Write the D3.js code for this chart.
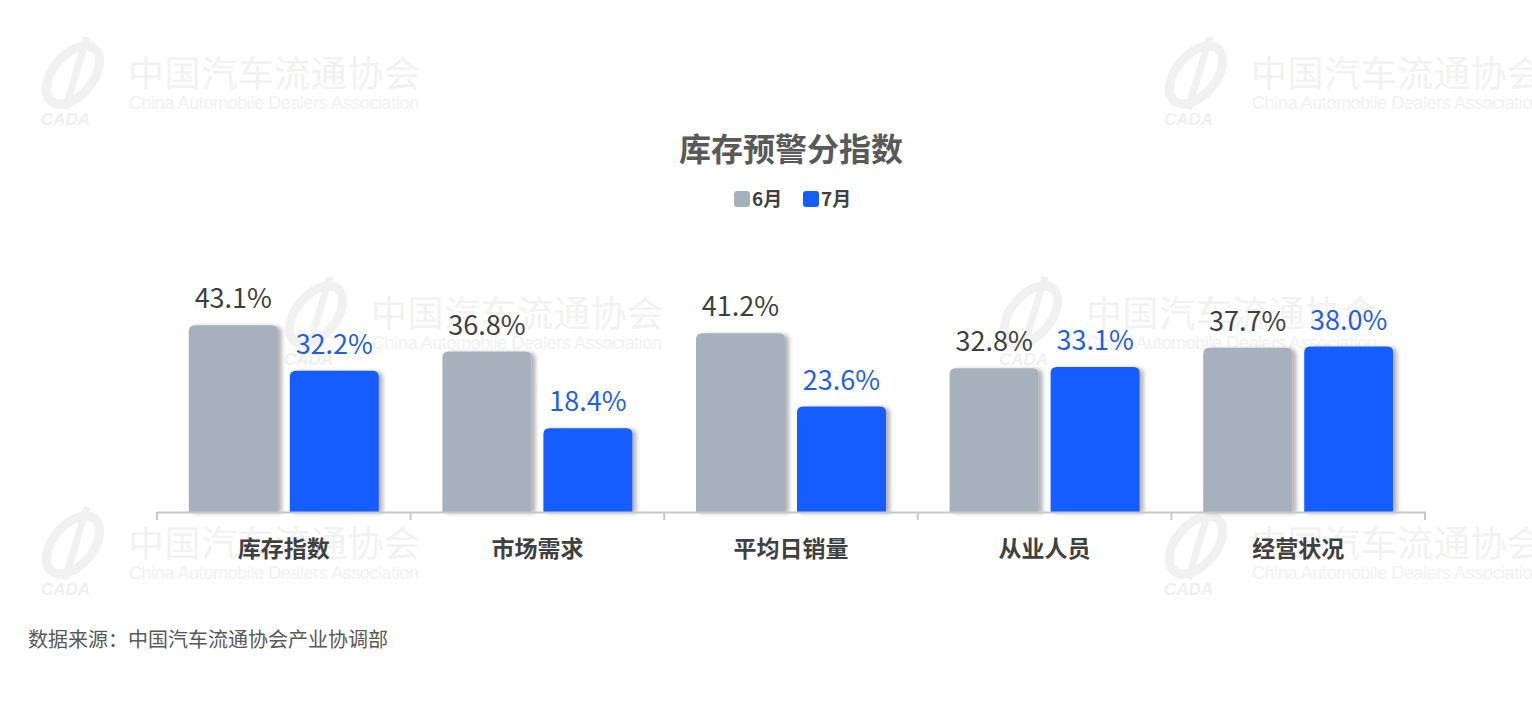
<!DOCTYPE html>
<html lang="zh-CN">
<head>
<meta charset="UTF-8">
<title>库存预警分指数</title>
<script src="https://d3js.org/d3.v7.min.js"></script>
<style>
  body { margin: 0; background: #fff; font-family: "Noto Sans CJK SC", "Noto Sans", sans-serif; }
  #chart svg { display: block; }
</style>
</head>
<body>
<div id="chart"></div>
<script>
// data
const categories = ["库存指数", "市场需求", "平均日销量", "从业人员", "经营状况"];
const seriesNames = ["6月", "7月"];
const june = [43.1, 36.8, 41.2, 32.8, 37.7];
const july = [32.2, 18.4, 23.6, 33.1, 38.0];
const seriesColors = ["#a7b0bd", "#165dff"];
const labelColors = ["#404040", "#1f5fe8"];

const W = 1532, H = 722;
const axisY = 512;

const svg = d3.select("#chart").append("svg")
  .attr("width", W)
  .attr("height", H);

const defs = svg.append("defs");
const shadow = defs.append("filter").attr("id", "barShadow")
  .attr("x", "-20%").attr("y", "-20%").attr("width", "150%").attr("height", "140%");
shadow.append("feDropShadow")
  .attr("dx", 4).attr("dy", 1).attr("stdDeviation", 2)
  .attr("flood-color", "#000").attr("flood-opacity", 0.3);

// watermarks
const marks = [[35, 35], [1158, 35], [278, 275], [993, 275], [35, 505], [1158, 505]];
const wm = svg.append("g").attr("class", "watermarks");
marks.forEach(([mx, my]) => {
  const g = wm.append("g").attr("transform", `translate(${mx},${my})`);
  g.append("ellipse")
    .attr("cx", 38).attr("cy", 40).attr("rx", 34).attr("ry", 20)
    .attr("transform", "rotate(-50,38,40)")
    .attr("fill", "none").attr("stroke", "#f1f1f1").attr("stroke-width", 9);
  g.append("path")
    .attr("d", "M52,2 L30,74")
    .attr("stroke", "#f1f1f1").attr("stroke-width", 7).attr("fill", "none");
  g.append("text")
    .attr("x", 6).attr("y", 90)
    .attr("font-size", 17).attr("font-weight", 700).attr("font-style", "italic")
    .attr("font-family", "Liberation Sans, sans-serif")
    .attr("fill", "#f0f0f0")
    .text("CADA");
  g.append("text")
    .attr("x", 93).attr("y", 52)
    .attr("font-size", 36)
    .attr("textLength", 292)
    .attr("fill", "#f2f2f2")
    .text("中国汽车流通协会");
  g.append("text")
    .attr("x", 94).attr("y", 74)
    .attr("font-size", 18)
    .attr("font-family", "Liberation Sans, sans-serif")
    .attr("textLength", 290)
    .attr("fill", "#f2f2f2")
    .text("China Automobile Dealers Association");
});

// title
svg.append("text")
  .attr("x", 791).attr("y", 161)
  .attr("text-anchor", "middle")
  .attr("font-size", 32).attr("font-weight", 700)
  .attr("fill", "#595959")
  .text("库存预警分指数");

// legend
const legend = svg.append("g").attr("transform", "translate(734,191)");
seriesNames.forEach((name, i) => {
  const lg = legend.append("g").attr("transform", `translate(${i * 69},0)`);
  lg.append("rect")
    .attr("width", 16).attr("height", 16).attr("rx", 3)
    .attr("fill", seriesColors[i]);
  lg.append("text")
    .attr("x", 18).attr("y", 15)
    .attr("font-size", 19).attr("font-weight", 700)
    .attr("fill", "#404040")
    .text(name);
});

// scales
const x = d3.scaleBand()
  .domain(categories)
  .range([157, 1425])
  .paddingInner(0).paddingOuter(0);

const xs = d3.scaleBand()
  .domain(seriesNames)
  .range([0, x.bandwidth()])
  .paddingInner(0.119)
  .paddingOuter(0.315);

const y = d3.scaleLinear()
  .domain([0, 50])
  .range([505, 296.5]);

const rows = categories.map((c, i) => ({ cat: c, vals: [june[i], july[i]] }));

function topRounded(x0, y0, w, h, r) {
  return `M${x0},${y0 + h} L${x0},${y0 + r} Q${x0},${y0} ${x0 + r},${y0}` +
    ` L${x0 + w - r},${y0} Q${x0 + w},${y0} ${x0 + w},${y0 + r} L${x0 + w},${y0 + h} Z`;
}

const groups = svg.append("g").selectAll("g")
  .data(rows)
  .join("g")
  .attr("transform", d => `translate(${x(d.cat)},0)`);

groups.selectAll("path")
  .data(d => d.vals.map((v, i) => ({ v, s: seriesNames[i], i })))
  .join("path")
  .attr("d", d => topRounded(xs(d.s), y(d.v), xs.bandwidth(), axisY - y(d.v), 6))
  .attr("fill", d => seriesColors[d.i])
  .attr("filter", "url(#barShadow)");

groups.selectAll("text.val")
  .data(d => d.vals.map((v, i) => ({ v, s: seriesNames[i], i })))
  .join("text")
  .attr("class", "val")
  .attr("x", d => xs(d.s) + xs.bandwidth() / 2)
  .attr("y", d => y(d.v) - 17)
  .attr("text-anchor", "middle")
  .attr("font-size", 27)
  .attr("fill", d => labelColors[d.i])
  .text(d => d.v.toFixed(1) + "%");

// axis
const axis = svg.append("g")
  .attr("transform", `translate(0,${axisY})`)
  .call(d3.axisBottom(x).tickSize(0).tickSizeOuter(0).tickPadding(45));
axis.select(".domain").attr("stroke", "#c8c8c8").attr("stroke-width", 2);
axis.selectAll(".tick text")
  .attr("font-size", 23).attr("font-weight", 700)
  .attr("fill", "#404040")
  .attr("font-family", "Noto Sans CJK SC, sans-serif")
  .attr("dy", 0);

const edges = categories.map(c => x(c)).concat([x.range()[1]]);
axis.selectAll("line.edge")
  .data(edges)
  .join("line")
  .attr("class", "edge")
  .attr("x1", d => d).attr("x2", d => d)
  .attr("y1", 0).attr("y2", 8)
  .attr("stroke", "#c8c8c8").attr("stroke-width", 2);

// source note
svg.append("text")
  .attr("x", 28).attr("y", 647)
  .attr("font-size", 20)
  .attr("fill", "#595959")
  .text("数据来源：中国汽车流通协会产业协调部");
</script>
</body>
</html>
